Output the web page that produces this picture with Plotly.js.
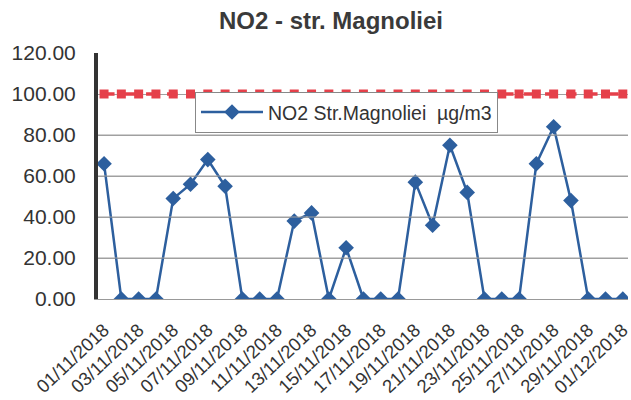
<!DOCTYPE html>
<html>
<head>
<meta charset="utf-8">
<script src="https://cdn.plot.ly/plotly-3.0.1.min.js"></script>
<style>html,body{margin:0;padding:0;background:#fff;}#chart{width:631px;height:400px;}</style>
</head>
<body>
<div id="chart"></div>
<script>
const dates = ["01/11/2018","02/11/2018","03/11/2018","04/11/2018","05/11/2018","06/11/2018","07/11/2018","08/11/2018","09/11/2018","10/11/2018","11/11/2018","12/11/2018","13/11/2018","14/11/2018","15/11/2018","16/11/2018","17/11/2018","18/11/2018","19/11/2018","20/11/2018","21/11/2018","22/11/2018","23/11/2018","24/11/2018","25/11/2018","26/11/2018","27/11/2018","28/11/2018","29/11/2018","30/11/2018","01/12/2018"];
const no2Values = [66,0,0,0,49,56,68,55,0,0,0,38,42,0,25,0,0,0,57,36,75,52,0,0,0,66,84,48,0,0,0];
const limitValues = [100,100,100,100,100,100,100,100,100,100,100,100,100,100,100,100,100,100,100,100,100,100,100,100,100,100,100,100,100,100,100];
const tickLabels = ["01/11/2018","03/11/2018","05/11/2018","07/11/2018","09/11/2018","11/11/2018","13/11/2018","15/11/2018","17/11/2018","19/11/2018","21/11/2018","23/11/2018","25/11/2018","27/11/2018","29/11/2018","01/12/2018"];
const yTicks = [0,20,40,60,80,100,120];
const yTickText = ['0.00','20.00','40.00','60.00','80.00','100.00','120.00'];

const traces = [
  {x: dates, y: limitValues, type: 'scatter', mode: 'lines+markers', showlegend: false,
   line: {color: '#e5404a', width: 3.5, dash: 'dash'},
   marker: {symbol: 'square', size: 9, color: '#e5404a'}},
  {x: dates, y: no2Values, type: 'scatter', mode: 'lines+markers', name: 'NO2 Str.Magnoliei&nbsp; µg/m3',
   line: {color: '#2d5f9e', width: 2.5},
   marker: {symbol: 'diamond', size: 12, color: '#2d5f9e'}}
];

const gridShapes = yTicks.filter(v => v > 0 && v < 100).map(v => ({
  type: 'line', xref: 'paper', yref: 'y', x0: 0, x1: 1, y0: v, y1: v,
  line: {color: '#a0a0a0', width: 1}, layer: 'above'
}));

const layout = {
  width: 631, height: 400,
  margin: {l: 98, r: 3, t: 53, b: 101, autoexpand: false},
  paper_bgcolor: '#fff', plot_bgcolor: '#fff',
  font: {family: 'Liberation Sans, Arial, sans-serif', color: '#333'},
  title: {text: '<b>NO2 - str. Magnoliei</b>', x: 331/631, xanchor: 'center', y: 1 - 21/400, yanchor: 'middle',
          font: {size: 24, color: '#3a3a3a'}},
  xaxis: {type: 'category', range: [-0.35, 30.3], tickmode: 'array', tickvals: tickLabels, ticktext: tickLabels,
          tickangle: -43, tickfont: {size: 18.5, color: '#333'}, showgrid: false, zeroline: false,
          showline: true, linecolor: '#999', linewidth: 1, ticks: '', ticklabelstandoff: 12, automargin: false},
  yaxis: {range: [0, 120], tickvals: yTicks, ticktext: yTickText, automargin: false,
          tickfont: {size: 21, color: '#333'}, showgrid: true, gridcolor: '#a0a0a0', gridwidth: 1,
          zeroline: false, showline: true, linecolor: '#333', linewidth: 4, ticks: '', ticklabelstandoff: 14},
  shapes: gridShapes,
  legend: {x: 0.183, y: 0.842, xanchor: 'left', yanchor: 'top',
           bgcolor: '#ffffff', bordercolor: '#888', borderwidth: 1, font: {size: 19.5, color: '#333'},
           itemwidth: 62},
};

Plotly.newPlot('chart', traces, layout, {displayModeBar: false, staticPlot: true});
</script>
</body>
</html>
